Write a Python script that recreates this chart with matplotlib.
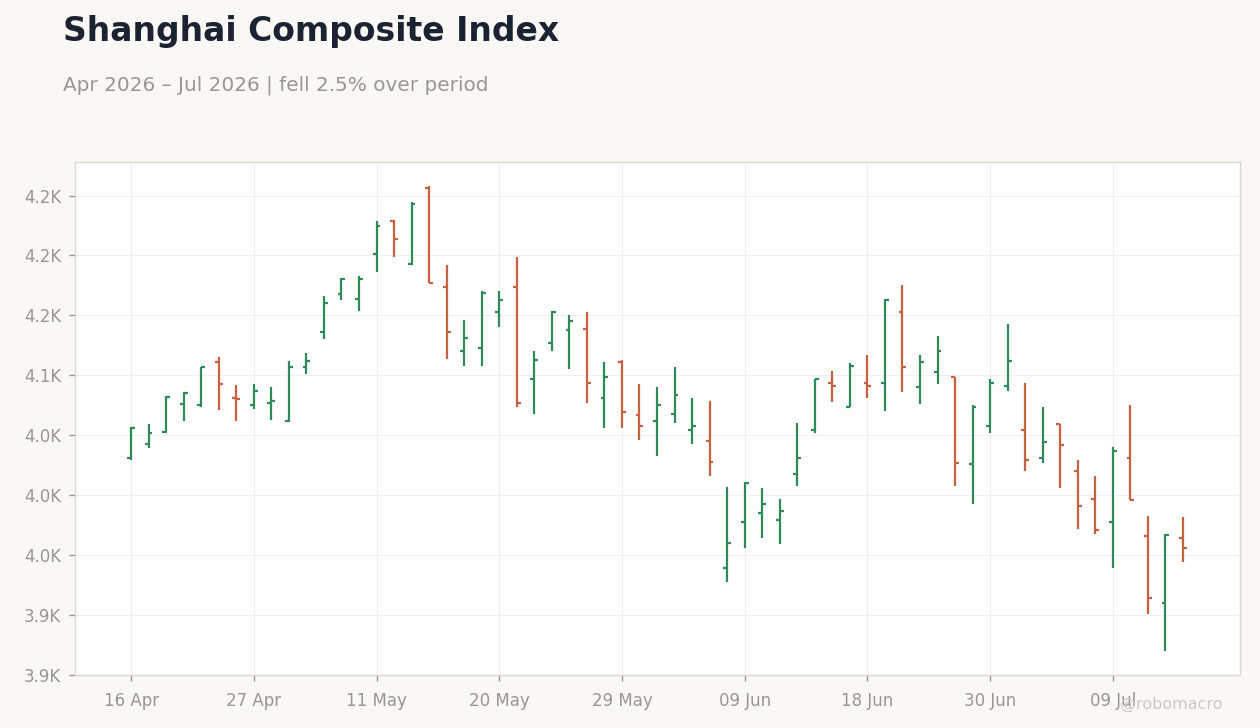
import matplotlib
matplotlib.use("Agg")
import matplotlib.pyplot as plt
from matplotlib.ticker import FuncFormatter, MultipleLocator
import pandas as pd

plt.rcParams["font.family"] = ["DejaVu Sans"]

# trading days (holidays 1-5 May and 19 Jun skipped)
dates = [
    "2026-04-16", "2026-04-17", "2026-04-20", "2026-04-21", "2026-04-22", "2026-04-23", "2026-04-24",
    "2026-04-27", "2026-04-28", "2026-04-29", "2026-04-30", "2026-05-06", "2026-05-07", "2026-05-08",
    "2026-05-11", "2026-05-12", "2026-05-13", "2026-05-14", "2026-05-15", "2026-05-18", "2026-05-19",
    "2026-05-20", "2026-05-21", "2026-05-22", "2026-05-25", "2026-05-26", "2026-05-27", "2026-05-28",
    "2026-05-29", "2026-06-01", "2026-06-02", "2026-06-03", "2026-06-04", "2026-06-05", "2026-06-08",
    "2026-06-09", "2026-06-10", "2026-06-11", "2026-06-12", "2026-06-15", "2026-06-16", "2026-06-17",
    "2026-06-18", "2026-06-22", "2026-06-23", "2026-06-24", "2026-06-25", "2026-06-26", "2026-06-29",
    "2026-06-30", "2026-07-01", "2026-07-02", "2026-07-03", "2026-07-06", "2026-07-07", "2026-07-08",
    "2026-07-09", "2026-07-10", "2026-07-13", "2026-07-14", "2026-07-15",
]

opens = [4031, 4043, 4053, 4076, 4075, 4111, 4081, 4075, 4077, 4062, 4107, 4136, 4168, 4164, 4201,
         4229, 4193, 4256, 4174, 4120, 4123, 4153, 4174, 4097, 4127, 4138, 4139, 4081, 4111, 4067,
         4062, 4068, 4054, 4045, 3939, 3978, 3985, 3979, 4018, 4054, 4094, 4074, 4094, 4094, 4153,
         4090, 4103, 4099, 4026, 4058, 4091, 4054, 4031, 4059, 4020, 3997, 3978, 4031, 3966, 3910, 3964]
highs = [4057, 4059, 4083, 4086, 4107, 4115, 4092, 4093, 4090, 4112, 4119, 4166, 4181, 4183, 4229,
         4230, 4245, 4258, 4192, 4146, 4170, 4170, 4199, 4120, 4154, 4150, 4153, 4111, 4113, 4093,
         4090, 4107, 4081, 4079, 4007, 4011, 4006, 3997, 4060, 4097, 4104, 4110, 4117, 4164, 4175,
         4117, 4133, 4099, 4075, 4097, 4143, 4094, 4074, 4059, 4029, 4016, 4040, 4075, 3983, 3968, 3982]
lows = [4029, 4039, 4052, 4062, 4074, 4071, 4062, 4072, 4063, 4061, 4101, 4130, 4163, 4154, 4186,
        4199, 4192, 4177, 4114, 4108, 4108, 4140, 4074, 4068, 4120, 4105, 4077, 4056, 4056, 4046,
        4033, 4060, 4043, 4016, 3928, 3956, 3964, 3959, 4008, 4052, 4078, 4074, 4081, 4070, 4086,
        4076, 4093, 4008, 3993, 4052, 4087, 4020, 4027, 4006, 3972, 3968, 3939, 3996, 3901, 3870, 3944]
closes = [4056, 4052, 4082, 4085, 4107, 4093, 4080, 4087, 4079, 4107, 4112, 4160, 4180, 4180, 4225,
          4214, 4243, 4177, 4136, 4131, 4169, 4163, 4077, 4113, 4153, 4145, 4094, 4099, 4069, 4058,
          4075, 4084, 4058, 4028, 3960, 4010, 3993, 3987, 4031, 4097, 4091, 4108, 4091, 4163, 4107,
          4111, 4120, 4027, 4074, 4094, 4112, 4029, 4044, 4042, 3991, 3971, 4037, 3996, 3914, 3967, 3956]

df = pd.DataFrame({"date": pd.to_datetime(dates), "open": opens, "high": highs,
                   "low": lows, "close": closes})

UP = "#2f8a57"
DOWN = "#c9603f"
BG = "#f9f8f5"

fig = plt.figure(figsize=(12.6, 7.28), dpi=100, facecolor=BG)
ax = fig.add_axes([0.0595, 0.0728, 0.9246, 0.7047])
ax.set_facecolor("white")

tick = 0.22
for i, r in df.iterrows():
    c = UP if r["close"] >= r["open"] else DOWN
    ax.vlines(i, r["low"], r["high"], color=c, linewidth=1.6, zorder=3)
    ax.hlines(r["open"], i - tick, i, color=c, linewidth=1.6, zorder=3)
    ax.hlines(r["close"], i, i + tick, color=c, linewidth=1.6, zorder=3)

ax.set_xlim(-3.2, 63.25)
ax.set_ylim(3850, 4278)
ax.yaxis.set_major_locator(MultipleLocator(50))
ax.yaxis.set_major_formatter(FuncFormatter(lambda v, p: f"{v / 1000:.1f}K"))

xt = list(range(0, len(df), 7))
ax.set_xticks(xt)
ax.set_xticklabels([df["date"][i].strftime("%d %b") for i in xt])

ax.grid(True, color="#eeeeee", linewidth=0.8, zorder=0)
ax.set_axisbelow(True)
for s in ax.spines.values():
    s.set_color("#ddd8d0")
    s.set_linewidth(1)
ax.tick_params(colors="#9a9590", labelsize=12, length=4, width=1, pad=6)
ax.tick_params(axis="x", pad=8)

fig.text(0.05, 0.98, "Shanghai Composite Index", fontsize=23.8, fontweight="bold",
         color="#1b2333", va="top")
fig.text(0.05, 0.896, "Apr 2026 – Jul 2026 | fell 2.5% over period", fontsize=14.4,
         color="#9a9590", va="top")
fig.text(0.97, 0.022, "@robomacro", fontsize=11.5, color="#cdc9c4", ha="right", va="bottom")

fig.savefig("out.png", dpi=100, facecolor=BG)
